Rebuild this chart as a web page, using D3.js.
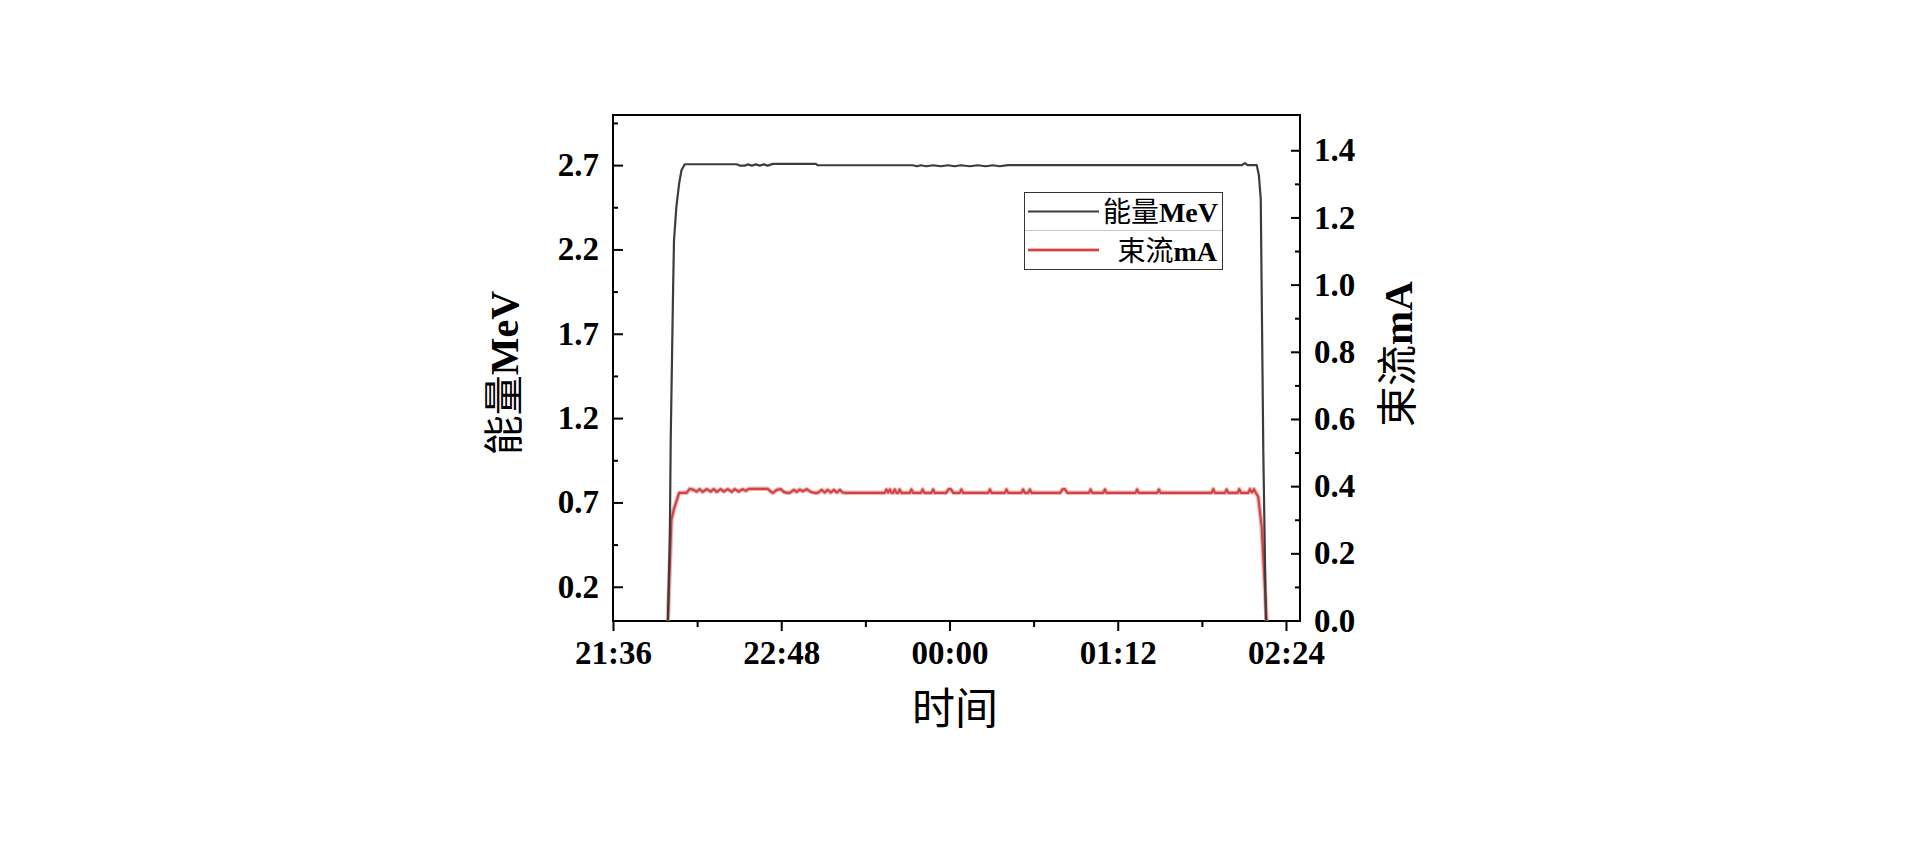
<!DOCTYPE html>
<html><head><meta charset="utf-8">
<script src="https://cdn.jsdelivr.net/npm/d3@7"></script>
<style>body{margin:0;background:#fff}</style>
</head><body><svg id="c" width="1920" height="846"></svg>
<script>
// ---- data (time in minutes after 21:36) ----
const xTickLabels = ["21:36", "22:48", "00:00", "01:12", "02:24"];
const xMinorLabels = ["22:12", "23:24", "00:36", "01:48"];
const leftTicks = [0.2, 0.7, 1.2, 1.7, 2.2, 2.7];
const leftMinor = [0.45, 0.95, 1.45, 1.95, 2.45, 2.95];
const rightTicks = [0.0, 0.2, 0.4, 0.6, 0.8, 1.0, 1.2, 1.4];
const rightMinor = [0.1, 0.3, 0.5, 0.7, 0.9, 1.1, 1.3];
const seriesNames = ["能量MeV", "束流mA"];

const energyTime = [23.5, 24.3, 24.7, 25.7, 26.1, 27.1, 28.3, 29.3, 30.7,
  52.9, 54.2, 56.4, 57.7, 59.4, 61.1, 62.8, 64.5, 66.2, 68.4,
  86.8, 87.6, 106.3, 128.3, 130.0, 131.7, 134.2, 136.9, 140.3, 143.3, 146.3, 148.8,
  152.7, 156.1, 159.5, 162.5, 165.5, 169.0,
  269.1, 270.4, 271.6, 275.5, 276.4, 277.2, 278.3, 279.4];
const energyValue = [0, 0.48, 1.07, 1.95, 2.25, 2.45, 2.59, 2.67, 2.705,
  2.705, 2.697, 2.697, 2.704, 2.697, 2.704, 2.697, 2.704, 2.697, 2.707,
  2.707, 2.699, 2.699, 2.699, 2.693, 2.699, 2.693, 2.699, 2.693, 2.699, 2.693, 2.699,
  2.693, 2.699, 2.693, 2.699, 2.693, 2.700,
  2.700, 2.712, 2.700, 2.700, 2.64, 2.50, 1.00, 0];

const currentTime = [23.5, 25.0, 26.0, 28.3, 31.5, 32.8, 34.1, 35.8, 37.1, 38.4, 40.1, 41.8,
  43.1, 44.4, 46.1, 47.4, 49.1, 50.8, 52.1, 53.8, 55.5, 56.8, 58.1, 66.2, 67.5, 68.4,
  70.1, 71.8, 73.1, 74.4, 75.6, 77.4, 78.6, 79.9, 81.2, 82.9, 84.6, 86.3, 87.6, 89.3,
  90.6, 91.9, 93.2, 94.5, 95.8, 97.1, 98.3, 99.6,
  116.3, 117.0, 117.7, 117.8, 118.5, 119.2, 119.9, 120.6, 121.3, 122.0, 122.7, 123.4,
  127.0, 127.7, 128.4, 131.8, 132.5, 133.2, 136.3, 137.0, 137.7,
  142.6, 143.6, 144.6, 145.6, 148.4, 149.1, 149.8,
  160.6, 161.3, 162.0, 167.7, 168.4, 169.1, 174.8, 175.5, 176.2, 177.7, 178.4, 179.1,
  191.4, 192.4, 193.4, 194.4, 203.7, 204.4, 205.1, 209.8, 210.5, 211.2,
  223.6, 224.3, 225.0, 232.9, 233.6, 234.3,
  256.2, 256.9, 257.6, 261.9, 262.6, 263.3, 267.3, 268.0, 268.7,
  271.9, 272.6, 273.3, 273.6, 274.3, 275.1, 276.1, 277.6, 279.7];
const currentValue = [0, 0.30, 0.33, 0.38, 0.38, 0.392, 0.39, 0.384, 0.391, 0.383, 0.391, 0.384,
  0.391, 0.383, 0.391, 0.384, 0.391, 0.383, 0.391, 0.384, 0.391, 0.386, 0.392, 0.392, 0.384, 0.38,
  0.389, 0.391, 0.383, 0.38, 0.38, 0.389, 0.383, 0.39, 0.385, 0.391, 0.383, 0.38, 0.38, 0.389,
  0.381, 0.389, 0.381, 0.389, 0.381, 0.389, 0.381, 0.38,
  0.38, 0.39, 0.381, 0.381, 0.39, 0.38, 0.38, 0.39, 0.38, 0.38, 0.39, 0.38,
  0.38, 0.39, 0.38, 0.38, 0.39, 0.38, 0.38, 0.39, 0.38,
  0.38, 0.391, 0.391, 0.38, 0.38, 0.39, 0.38,
  0.38, 0.39, 0.38, 0.38, 0.39, 0.38, 0.38, 0.39, 0.38, 0.38, 0.39, 0.38,
  0.38, 0.391, 0.391, 0.38, 0.38, 0.39, 0.38, 0.38, 0.39, 0.38,
  0.38, 0.39, 0.38, 0.38, 0.39, 0.38,
  0.38, 0.391, 0.38, 0.38, 0.39, 0.38, 0.38, 0.391, 0.38,
  0.38, 0.391, 0.382, 0.382, 0.391, 0.38, 0.369, 0.279, 0];

// ---- layout ----
const svg = d3.select("#c");
const L = 613, R = 1300, T = 115, B = 621;
const toMin = s => { const [h, m] = s.split(":").map(Number); let v = h * 60 + m - (21 * 60 + 36); if (v < 0) v += 1440; return v; };

const x = d3.scaleLinear().domain([0, 294]).range([L, R]);
const yL = d3.scaleLinear().domain([0, 3.0]).range([620.5, 114.5]);
const yR = d3.scaleLinear().domain([0, 1.505]).range([620.5, 115]);

const serif = "'Liberation Serif','Times New Roman',serif";
const cjk = "'Noto Sans CJK SC','Noto Sans CJK JP',sans-serif";

function styleAxis(g, size) {
  g.select(".domain").remove();
  g.selectAll("line").attr("stroke", "#000").attr("stroke-width", 2);
  g.selectAll("text").attr("font-family", serif).attr("font-weight", "bold")
    .attr("font-size", size).attr("fill", "#000");
}

// bottom axis
const gx = svg.append("g").attr("transform", `translate(0,${B})`)
  .call(d3.axisBottom(x).tickValues(xTickLabels.map(toMin)).tickFormat((d, i) => xTickLabels[i])
    .tickSizeInner(10).tickSizeOuter(0).tickPadding(9.5));
styleAxis(gx, 33);
const gxm = svg.append("g").attr("transform", `translate(0,${B})`)
  .call(d3.axisBottom(x).tickValues(xMinorLabels.map(toMin)).tickFormat("").tickSizeInner(6).tickSizeOuter(0));
styleAxis(gxm, 33);

// left axis (ticks inward)
const gl = svg.append("g").attr("transform", `translate(${L},0)`)
  .call(d3.axisLeft(yL).tickValues(leftTicks).tickFormat(d3.format(".1f"))
    .tickSizeInner(-10).tickSizeOuter(0).tickPadding(14));
styleAxis(gl, 33);
const glm = svg.append("g").attr("transform", `translate(${L},0)`)
  .call(d3.axisLeft(yL).tickValues(leftMinor).tickFormat("").tickSizeInner(-5).tickSizeOuter(0));
styleAxis(glm, 33);

// right axis (ticks inward)
const gr = svg.append("g").attr("transform", `translate(${R},0)`)
  .call(d3.axisRight(yR).tickValues(rightTicks).tickFormat(d3.format(".1f"))
    .tickSizeInner(-9).tickSizeOuter(0).tickPadding(14));
styleAxis(gr, 33);
const grm = svg.append("g").attr("transform", `translate(${R},0)`)
  .call(d3.axisRight(yR).tickValues(rightMinor).tickFormat("").tickSizeInner(-5).tickSizeOuter(0));
styleAxis(grm, 33);

// frame
svg.append("rect").attr("x", L).attr("y", T).attr("width", R - L).attr("height", B - T)
  .attr("fill", "none").attr("stroke", "#000").attr("stroke-width", 2);

// lines
svg.append("clipPath").attr("id", "pc").append("rect")
  .attr("x", L).attr("y", T).attr("width", R - L).attr("height", B - T);
const plot = svg.append("g").attr("clip-path", "url(#pc)");

const lineE = d3.line().x((d, i) => x(energyTime[i])).y((d, i) => yL(energyValue[i]));
const lineC = d3.line().x((d, i) => x(currentTime[i])).y((d, i) => yR(currentValue[i]));

plot.append("path").attr("d", lineC(currentValue)).attr("fill", "none")
  .attr("stroke", "#f2b5b5").attr("stroke-width", 4.5).attr("stroke-linejoin", "round");
plot.append("path").attr("d", lineC(currentValue)).attr("fill", "none")
  .attr("stroke", "#cf4545").attr("stroke-width", 2.2).attr("stroke-linejoin", "round");
plot.append("path").attr("d", lineE(energyValue)).attr("fill", "none")
  .attr("stroke", "#3c3c3c").attr("stroke-width", 2.2).attr("stroke-linejoin", "round");

// mixed title helper
function mixedText(g, cjkPart, latinPart, size) {
  const t = g.append("text").attr("fill", "#000").attr("font-size", size);
  t.append("tspan").attr("font-family", cjk).attr("font-weight", 400).text(cjkPart);
  t.append("tspan").attr("font-family", serif).attr("font-weight", "bold").text(latinPart);
  return t;
}

// axis titles
mixedText(svg.append("g").attr("transform", "translate(504,373) rotate(-90)"), "能量", "MeV", 40)
  .attr("text-anchor", "middle").attr("dy", "0.36em");
mixedText(svg.append("g").attr("transform", "translate(1397,354) rotate(-90)"), "束流", "mA", 41)
  .attr("text-anchor", "middle").attr("dy", "0.36em");
svg.append("text").attr("x", 955).attr("y", 709).attr("dy", "0.36em").attr("text-anchor", "middle")
  .attr("font-family", cjk).attr("font-size", 43).attr("fill", "#000").text("时间");

// legend
const lg = svg.append("g");
lg.append("rect").attr("x", 1024.5).attr("y", 192.5).attr("width", 198).attr("height", 77)
  .attr("fill", "#fff").attr("stroke", "#333").attr("stroke-width", 1);
lg.append("line").attr("x1", 1025).attr("x2", 1222).attr("y1", 230.5).attr("y2", 230.5)
  .attr("stroke", "#c8c8c8").attr("stroke-width", 1);
lg.append("line").attr("x1", 1028).attr("x2", 1099).attr("y1", 211.5).attr("y2", 211.5)
  .attr("stroke", "#3c3c3c").attr("stroke-width", 2);
lg.append("line").attr("x1", 1028).attr("x2", 1099).attr("y1", 250).attr("y2", 250)
  .attr("stroke", "#f2b5b5").attr("stroke-width", 4);
lg.append("line").attr("x1", 1028).attr("x2", 1099).attr("y1", 250).attr("y2", 250)
  .attr("stroke", "#cf4545").attr("stroke-width", 2);
mixedText(lg, seriesNames[0].slice(0, 2), seriesNames[0].slice(2), 28)
  .attr("x", 1218).attr("y", 222).attr("text-anchor", "end");
mixedText(lg, seriesNames[1].slice(0, 2), seriesNames[1].slice(2), 28)
  .attr("x", 1217).attr("y", 261).attr("text-anchor", "end");
</script></body></html>
